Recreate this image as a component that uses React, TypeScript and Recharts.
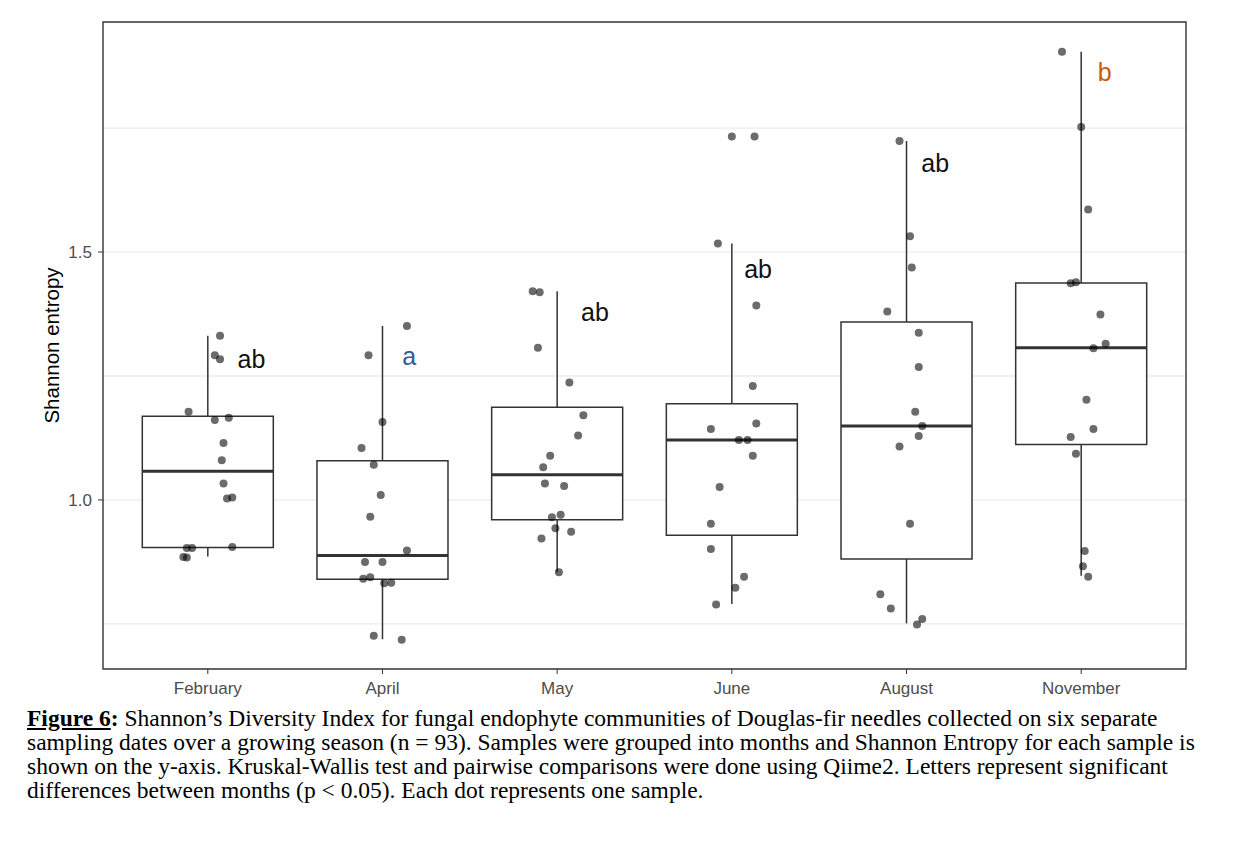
import React from "react";
import {
  ComposedChart,
  XAxis,
  YAxis,
  CartesianGrid,
  Scatter,
  ReferenceArea,
  ReferenceLine,
  Label,
} from "recharts";

const months = ["February", "April", "May", "June", "August", "November"];

// samples per month (Shannon entropy) and their horizontal jitter (category units)
const febValues = [1.331, 1.292, 1.284, 1.178, 1.161, 1.166, 1.115, 1.08, 1.033, 1.003, 1.005, 0.903, 0.903, 0.885, 0.884, 0.905];
const febJitter = [0.07, 0.04, 0.07, -0.11, 0.04, 0.12, 0.09, 0.08, 0.09, 0.11, 0.14, -0.12, -0.09, -0.14, -0.12, 0.14];
const aprValues = [1.351, 1.292, 1.157, 1.105, 1.071, 1.01, 0.966, 0.898, 0.875, 0.875, 0.841, 0.844, 0.832, 0.833, 0.726, 0.718];
const aprJitter = [0.14, -0.08, 0.0, -0.12, -0.05, -0.01, -0.07, 0.14, -0.1, 0.0, -0.11, -0.07, 0.01, 0.05, -0.05, 0.11];
const mayValues = [1.421, 1.419, 1.307, 1.237, 1.171, 1.13, 1.089, 1.066, 1.033, 1.028, 0.965, 0.97, 0.943, 0.936, 0.922, 0.854];
const mayJitter = [-0.14, -0.1, -0.11, 0.07, 0.15, 0.12, -0.04, -0.08, -0.07, 0.04, -0.03, 0.02, -0.01, 0.08, -0.09, 0.01];
const junValues = [1.733, 1.733, 1.517, 1.392, 1.23, 1.154, 1.143, 1.121, 1.121, 1.089, 1.026, 0.952, 0.901, 0.845, 0.823, 0.789];
const junJitter = [0.0, 0.13, -0.08, 0.14, 0.12, 0.14, -0.12, 0.04, 0.09, 0.12, -0.07, -0.12, -0.12, 0.07, 0.02, -0.09];
const augValues = [1.724, 1.532, 1.469, 1.38, 1.337, 1.268, 1.178, 1.149, 1.129, 1.108, 0.952, 0.81, 0.781, 0.76, 0.749];
const augJitter = [-0.04, 0.02, 0.03, -0.11, 0.07, 0.07, 0.05, 0.09, 0.07, -0.04, 0.02, -0.15, -0.09, 0.09, 0.06];
const novValues = [1.904, 1.752, 1.586, 1.437, 1.439, 1.374, 1.315, 1.306, 1.202, 1.143, 1.127, 1.093, 0.897, 0.866, 0.845];
const novJitter = [-0.11, 0.0, 0.04, -0.06, -0.03, 0.11, 0.14, 0.07, 0.03, 0.07, -0.06, -0.03, 0.02, 0.01, 0.04];

// boxplot summaries
const whiskerLow = [0.886, 0.719, 0.854, 0.79, 0.751, 0.847];
const q1 = [0.904, 0.84, 0.96, 0.929, 0.881, 1.112];
const medians = [1.058, 0.888, 1.051, 1.121, 1.149, 1.307];
const q3 = [1.169, 1.079, 1.187, 1.194, 1.359, 1.4375];
const whiskerHigh = [1.331, 1.351, 1.421, 1.517, 1.724, 1.904];

// significance letters
const letters = ["ab", "a", "ab", "ab", "ab", "b"];
const letterY = [1.266, 1.272, 1.361, 1.448, 1.661, 1.845];
const letterOffset = [0.25, 0.153, 0.216, 0.15, 0.164, 0.135];
const letterColors = ["#111", "#2e5c9a", "#111", "#111", "#111", "#c55a11"];

const yTicks = [1.0, 1.5];
const gridValues = [0.75, 1.0, 1.25, 1.5, 1.75];
const yDomain: [number, number] = [0.659, 1.964];
const xDomain: [number, number] = [0.4, 6.6];
const boxHalf = 0.375;

const monthValues = [febValues, aprValues, mayValues, junValues, augValues, novValues];
const monthJitter = [febJitter, aprJitter, mayJitter, junJitter, augJitter, novJitter];

const points = monthValues.flatMap((vals, i) =>
  vals.map((v, j) => ({ x: i + 1 + monthJitter[i][j], y: v }))
);
const letterData = letters.map((l, i) => ({
  x: i + 1 + letterOffset[i],
  y: letterY[i],
  label: l,
  color: letterColors[i],
}));

const sans = "'Liberation Sans', Arial, sans-serif";
const ink = "#333333";
const frame = "#262626";

const Dot = (props: any) => (
  <circle cx={props.cx} cy={props.cy} r={4} fill="#000" fillOpacity={0.58} />
);

const Letter = (props: any) => (
  <text
    x={props.cx}
    y={props.cy}
    textAnchor="middle"
    fontSize={25}
    fontFamily={sans}
    fill={props.payload.color}
  >
    {props.payload.label}
  </text>
);

export default function App() {
  return (
    <div
      style={{
        position: "relative",
        width: 1248,
        height: 841,
        margin: -8,
        overflow: "hidden",
        background: "#fff",
      }}
    >
      <ComposedChart width={1248} height={841} margin={{ top: 22, right: 62, bottom: 142, left: 1 }}>
        {/* figure frame: left and top rules */}
        <path d="M7,849 L7,4 L1248,4" fill="none" stroke={frame} strokeWidth={2} />
        <CartesianGrid
          vertical={false}
          horizontalValues={gridValues}
          stroke="#ebebeb"
          strokeWidth={1.3}
        />
        <XAxis
          type="number"
          dataKey="x"
          domain={xDomain}
          ticks={[1, 2, 3, 4, 5, 6]}
          interval={0}
          allowDataOverflow
          tickFormatter={(v: number) => months[v - 1]}
          height={30}
          tickSize={5}
          tickMargin={8}
          axisLine={false}
          tickLine={{ stroke: ink }}
          tick={{ fontSize: 17, fill: "#4d4d4d", fontFamily: sans }}
        />
        <YAxis
          type="number"
          dataKey="y"
          domain={yDomain}
          ticks={yTicks}
          allowDataOverflow
          tickFormatter={(v: number) => v.toFixed(1)}
          width={102}
          tickSize={5}
          tickMargin={6}
          axisLine={false}
          tickLine={{ stroke: ink }}
          tick={{ fontSize: 17, fill: "#4d4d4d", fontFamily: sans }}
        >
          <Label
            value="Shannon entropy"
            angle={-90}
            position="center"
            style={{ fontSize: 20.5, fill: "#000", fontFamily: sans }}
          />
        </YAxis>
        <ReferenceArea
          x1={xDomain[0]}
          x2={xDomain[1]}
          y1={yDomain[0]}
          y2={yDomain[1]}
          fill="none"
          stroke={ink}
          strokeWidth={1.4}
        />
        {months.map((m, i) => (
          <ReferenceArea
            key={"box" + m}
            x1={i + 1 - boxHalf}
            x2={i + 1 + boxHalf}
            y1={q1[i]}
            y2={q3[i]}
            fill="#fff"
            fillOpacity={1}
            stroke={ink}
            strokeWidth={1.5}
          />
        ))}
        {months.map((m, i) => (
          <ReferenceLine
            key={"hi" + m}
            segment={[{ x: i + 1, y: q3[i] }, { x: i + 1, y: whiskerHigh[i] }]}
            stroke={ink}
            strokeWidth={1.5}
          />
        ))}
        {months.map((m, i) => (
          <ReferenceLine
            key={"lo" + m}
            segment={[{ x: i + 1, y: whiskerLow[i] }, { x: i + 1, y: q1[i] }]}
            stroke={ink}
            strokeWidth={1.5}
          />
        ))}
        {months.map((m, i) => (
          <ReferenceLine
            key={"med" + m}
            segment={[
              { x: i + 1 - boxHalf, y: medians[i] },
              { x: i + 1 + boxHalf, y: medians[i] },
            ]}
            stroke={ink}
            strokeWidth={3}
          />
        ))}
        <Scatter data={points} shape={Dot} isAnimationActive={false} />
        <Scatter data={letterData} shape={Letter} isAnimationActive={false} />
      </ComposedChart>
      <div
        style={{
          position: "absolute",
          left: 27,
          top: 706,
          fontFamily: "'Liberation Serif', 'Times New Roman', serif",
          fontSize: 23.5,
          lineHeight: "24px",
          color: "#000",
          whiteSpace: "nowrap",
        }}
      >
        <div>
          <b>
            <u>Figure 6</u>:
          </b>{" "}
          Shannon’s Diversity Index for fungal endophyte communities of Douglas-fir needles collected on six separate
        </div>
        <div>
          sampling dates over a growing season (n = 93). Samples were grouped into months and Shannon Entropy for each sample is
        </div>
        <div>
          shown on the y-axis. Kruskal-Wallis test and pairwise comparisons were done using Qiime2. Letters represent significant
        </div>
        <div>differences between months (p &lt; 0.05). Each dot represents one sample.</div>
      </div>
    </div>
  );
}
